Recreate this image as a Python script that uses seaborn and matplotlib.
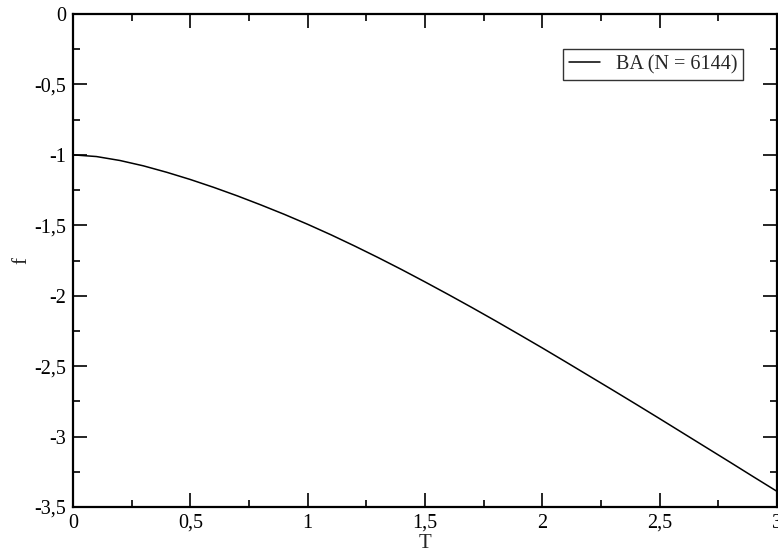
import matplotlib
matplotlib.use("Agg")
import matplotlib.pyplot as plt
from matplotlib.ticker import MultipleLocator, FuncFormatter
import seaborn as sns
import pandas as pd

# Free energy per site versus temperature
T = [0.0, 0.1, 0.2, 0.3, 0.4, 0.5, 0.6, 0.7, 0.8, 0.9, 1.0,
     1.1, 1.2, 1.3, 1.4, 1.5, 1.6, 1.7, 1.8, 1.9, 2.0,
     2.1, 2.2, 2.3, 2.4, 2.5, 2.6, 2.7, 2.8, 2.9, 3.0]
f = [-1.000, -1.012, -1.040, -1.078, -1.124, -1.175, -1.231, -1.291, -1.355, -1.422, -1.493,
     -1.568, -1.647, -1.729, -1.814, -1.902, -1.992, -2.084, -2.178, -2.274, -2.371,
     -2.470, -2.570, -2.670, -2.771, -2.873, -2.976, -3.079, -3.182, -3.286, -3.389]
series_label = "BA (N = 6144)"

df = pd.DataFrame({"T": T, "f": f, "series": series_label})

sns.set_style("ticks")
plt.rcParams["font.family"] = ["Liberation Serif", "DejaVu Serif"]

fig = plt.figure(figsize=(7.78, 5.52), dpi=100)
ax = fig.add_axes([73 / 778, 1 - 507 / 552, 704 / 778, 493 / 552])

sns.lineplot(data=df, x="T", y="f", hue="series", palette=["black"],
             linewidth=1.1, ax=ax)

ax.set_xlim(0, 3)
ax.set_ylim(-3.5, 0)

comma = FuncFormatter(lambda v, _: ("%g" % round(v, 3)).replace(".", ","))
ax.xaxis.set_major_locator(MultipleLocator(0.5))
ax.xaxis.set_minor_locator(MultipleLocator(0.25))
ax.yaxis.set_major_locator(MultipleLocator(0.5))
ax.yaxis.set_minor_locator(MultipleLocator(0.25))
ax.xaxis.set_major_formatter(comma)
ax.yaxis.set_major_formatter(comma)

ax.tick_params(which="both", direction="in", top=True, right=True,
               color="black", labelsize=14.5, labelcolor="black")
ax.tick_params(which="major", length=10, width=1.2)
ax.tick_params(which="minor", length=5, width=1.2)
ax.tick_params(axis="x", which="major", pad=5)
ax.tick_params(axis="y", which="major", pad=5)
for s in ax.spines.values():
    s.set_linewidth(1.6)
    s.set_color("black")

ax.set_xlabel("T", fontsize=15, labelpad=1)
ax.set_ylabel("f", fontsize=15, labelpad=2)

leg = ax.legend(loc="upper right", bbox_to_anchor=(0.952, 0.929),
                borderaxespad=0, fontsize=14.5, frameon=True, fancybox=False,
                handlelength=1.5, handletextpad=0.8, borderpad=0.3)
leg.get_frame().set_edgecolor("black")
leg.get_frame().set_linewidth(1.0)

fig.savefig("out.png", dpi=100)
